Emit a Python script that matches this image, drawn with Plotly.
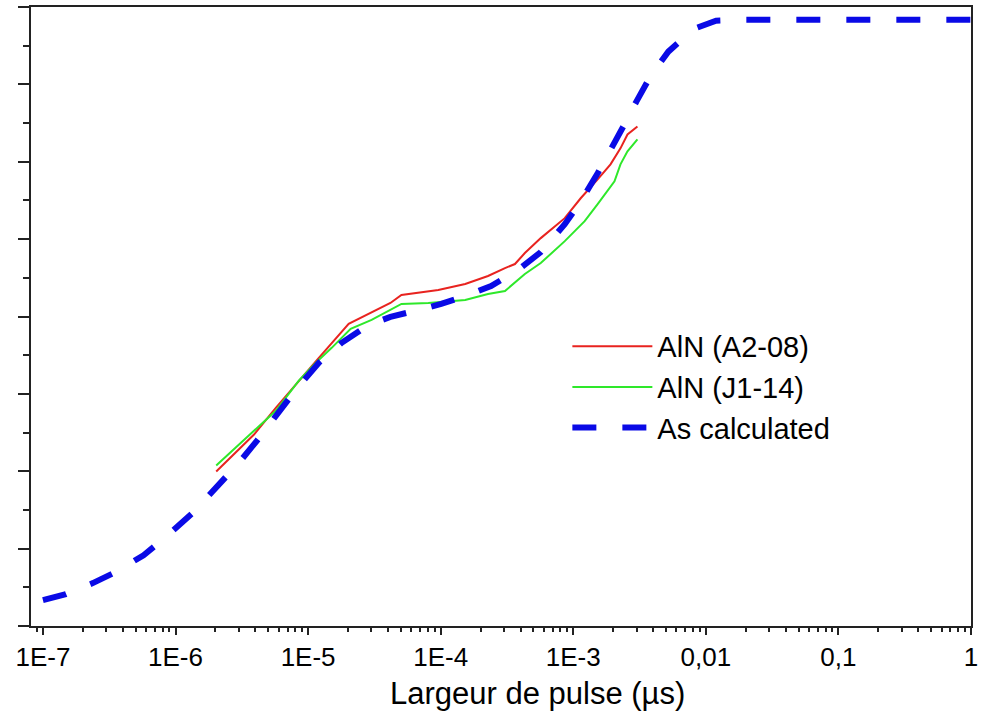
import plotly.graph_objects as go

# log10 of pulse width (µs) and response (arbitrary units, axis unlabeled)
calc_log_x = [-7.0, -6.827, -6.624, -6.452, -6.241, -6.076, -5.866, -5.708, -5.520, -5.385,
              -5.227, -5.092, -4.919, -4.747, -4.544, -4.379, -4.168, -3.996, -3.793, -3.620,
              -3.417, -3.245, -3.064, -2.952, -2.816, -2.726, -2.614, -2.524, -2.411, -2.283,
              -2.088, -1.923, -1.712, 0.0]
calc_y = [0.335, 0.412, 0.554, 0.696, 0.915, 1.147, 1.469, 1.753, 2.113, 2.397,
          2.758, 3.054, 3.402, 3.660, 3.892, 3.995, 4.085, 4.162, 4.278, 4.394,
          4.601, 4.832, 5.193, 5.464, 5.851, 6.121, 6.482, 6.778, 7.126, 7.423,
          7.719, 7.822, 7.835, 7.835]

a208_log_x = [-5.693, -5.408, -5.242, -5.070, -4.919, -4.694, -4.521, -4.379, -4.296, -4.018,
              -3.815, -3.643, -3.515, -3.440, -3.365, -3.245, -3.064, -2.944, -2.816, -2.719,
              -2.644, -2.591, -2.516]
a208_y = [1.997, 2.474, 2.822, 3.170, 3.466, 3.905, 4.059, 4.175, 4.278, 4.343,
          4.420, 4.523, 4.626, 4.678, 4.820, 5.013, 5.271, 5.528, 5.773, 5.966,
          6.173, 6.353, 6.456]

j114_log_x = [-5.693, -5.423, -5.242, -5.070, -4.942, -4.822, -4.679, -4.521, -4.296, -4.093,
              -3.815, -3.643, -3.515, -3.365, -3.245, -3.064, -2.914, -2.816, -2.689, -2.644,
              -2.591, -2.516]
j114_y = [2.075, 2.500, 2.784, 3.170, 3.402, 3.595, 3.840, 3.956, 4.162, 4.175,
          4.214, 4.291, 4.330, 4.549, 4.691, 4.974, 5.232, 5.451, 5.747, 5.966,
          6.134, 6.289]

tick_vals = [1e-7, 1e-6, 1e-5, 1e-4, 1e-3, 1e-2, 1e-1, 1]
tick_text = ["1E-7", "1E-6", "1E-5", "1E-4", "1E-3", "0,01", "0,1", "1"]
x_title = "Largeur de pulse (µs)"

FONT = "Liberation Sans, Arial, sans-serif"

fig = go.Figure()
fig.add_trace(go.Scatter(x=[10 ** v for v in a208_log_x], y=a208_y, mode="lines",
                         name="AlN (A2-08)", line=dict(color="#e8231f", width=2)))
fig.add_trace(go.Scatter(x=[10 ** v for v in j114_log_x], y=j114_y, mode="lines",
                         name="AlN (J1-14)", line=dict(color="#2ee82a", width=2)))
fig.add_trace(go.Scatter(x=[10 ** v for v in calc_log_x], y=calc_y, mode="lines",
                         name="As calculated",
                         line=dict(color="#0a0ae6", width=6, dash="24px,26px")))

fig.update_layout(
    width=983, height=716,
    margin=dict(l=31, r=8, t=5, b=90),
    paper_bgcolor="white", plot_bgcolor="white",
    font=dict(family=FONT, color="black", size=26),
    showlegend=True,
    legend=dict(x=0.5706, y=0.4930, xanchor="left", yanchor="top",
                bgcolor="rgba(0,0,0,0)", font=dict(size=29, family=FONT),
                itemwidth=80, tracegroupgap=0),
    xaxis=dict(type="log", range=[-7.09, 0],
               tickvals=tick_vals, ticktext=tick_text,
               showline=True, linecolor="#222", linewidth=2, mirror=True,
               ticks="outside", ticklen=7, tickwidth=2, tickcolor="#222",
               minor=dict(ticks="outside", ticklen=4, tickwidth=1.5, tickcolor="#222",
                          dtick="D1", showgrid=False),
               showgrid=False, zeroline=False,
               tickfont=dict(size=26, family=FONT)),
    yaxis=dict(range=[0, 8], dtick=1, showticklabels=False,
               showline=True, linecolor="#222", linewidth=2, mirror=True,
               ticks="outside", ticklen=11, tickwidth=2, tickcolor="#222",
               minor=dict(ticks="outside", ticklen=6, tickwidth=2, tickcolor="#222",
                          dtick=0.5, showgrid=False),
               showgrid=False, zeroline=False),
    annotations=[dict(text=x_title, xref="paper", yref="paper", x=0.539, y=-0.1095,
                      xanchor="center", yanchor="middle", showarrow=False,
                      font=dict(size=31, family=FONT, color="black"))],
)

fig.write_html("out.html")
